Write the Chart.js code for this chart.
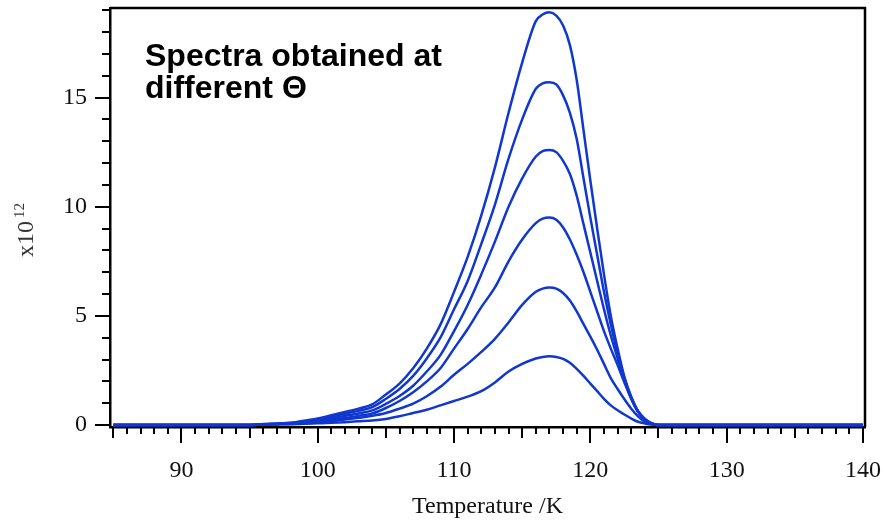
<!DOCTYPE html>
<html>
<head>
<meta charset="utf-8">
<script src="https://cdn.jsdelivr.net/npm/chart.js@4.4.1/dist/chart.umd.min.js"></script>
<style>
  html, body { margin: 0; padding: 0; background: #fff; }
  #wrap { width: 885px; height: 522px; }
</style>
</head>
<body>
<div id="wrap"><canvas id="c" width="885" height="522"></canvas></div>
<script>
// ---- data ----
const temperatures = [85, 90, 95, 96, 97, 98, 99, 100, 101, 102, 103, 104, 105, 106, 107, 108, 109, 110, 111, 112, 113, 114, 115, 116,
  116.5, 117, 117.5, 118, 118.5, 119, 119.5, 120, 120.5, 121, 121.5, 122, 122.5, 123, 123.5, 124, 124.5, 125, 130, 135, 140];

const spectrum1 = [0, 0, 0, 0.05, 0.07, 0.1, 0.2, 0.3, 0.45, 0.6, 0.75, 0.95, 1.4, 1.9, 2.6, 3.5, 4.6, 6.1, 7.7, 9.6, 11.8, 14.3, 16.6, 18.5,
  18.8, 18.9, 18.75, 18.3, 17.4, 15.8, 13.5, 11.2, 9.0, 6.9, 5.0, 3.5, 2.2, 1.3, 0.65, 0.28, 0.08, 0, 0, 0, 0];
const spectrum2 = [0, 0, 0, 0.04, 0.06, 0.09, 0.17, 0.26, 0.38, 0.52, 0.65, 0.82, 1.2, 1.65, 2.25, 3.05, 4.0, 5.3, 6.6, 8.3, 10.1, 12.2, 14.0, 15.4,
  15.65, 15.7, 15.6, 15.1, 14.3, 13.1, 11.3, 9.5, 7.8, 6.1, 4.6, 3.3, 2.15, 1.25, 0.62, 0.27, 0.08, 0, 0, 0, 0];
const spectrum3 = [0, 0, 0, 0.04, 0.05, 0.07, 0.14, 0.21, 0.31, 0.42, 0.53, 0.67, 0.97, 1.33, 1.8, 2.45, 3.2, 4.3, 5.5, 6.9, 8.4, 10.0, 11.3, 12.3,
  12.55, 12.6, 12.5, 12.1, 11.5, 10.5, 9.2, 7.9, 6.6, 5.3, 4.1, 3.05, 2.05, 1.22, 0.6, 0.26, 0.07, 0, 0, 0, 0];
const spectrum4 = [0, 0, 0, 0.03, 0.04, 0.06, 0.11, 0.16, 0.24, 0.32, 0.42, 0.53, 0.78, 1.1, 1.5, 2.0, 2.6, 3.5, 4.4, 5.4, 6.3, 7.5, 8.5, 9.25,
  9.45, 9.5, 9.4, 9.05, 8.5, 7.8, 7.0, 6.1, 5.2, 4.3, 3.5, 2.75, 1.95, 1.2, 0.6, 0.25, 0.07, 0, 0, 0, 0];
const spectrum5 = [0, 0, 0, 0.03, 0.04, 0.05, 0.08, 0.12, 0.18, 0.25, 0.33, 0.42, 0.55, 0.75, 0.98, 1.32, 1.75, 2.3, 2.8, 3.35, 3.95, 4.7, 5.5, 6.1,
  6.25, 6.3, 6.25, 6.05, 5.7, 5.2, 4.62, 4.05, 3.45, 2.8, 2.15, 1.65, 1.18, 0.75, 0.4, 0.15, 0.04, 0, 0, 0, 0];
const spectrum6 = [0, 0, 0, 0.02, 0.03, 0.04, 0.06, 0.08, 0.1, 0.13, 0.17, 0.21, 0.28, 0.4, 0.55, 0.7, 0.9, 1.1, 1.3, 1.55, 1.95, 2.45, 2.8, 3.05,
  3.12, 3.15, 3.12, 3.03, 2.85, 2.57, 2.25, 1.9, 1.55, 1.2, 0.9, 0.68, 0.48, 0.3, 0.15, 0.07, 0.02, 0, 0, 0, 0];

const xTickValues = [90, 100, 110, 120, 130, 140];
const yTickValues = [0, 5, 10, 15];
const xAxisTitle = 'Temperature /K';
const yAxisTitleBase = 'x10';
const yAxisTitleExp = '12';
const noteLines = ['Spectra obtained at', 'different \u0398'];

// ---- chart ----
const lineColor = '#1038d0';
const seriesList = [spectrum1, spectrum2, spectrum3, spectrum4, spectrum5, spectrum6];
const datasets = seriesList.map((s, i) => ({
  label: 'Spectrum ' + (i + 1),
  data: temperatures.map((t, k) => ({ x: t, y: s[k] })),
  borderColor: lineColor,
  borderWidth: 2.5,
  pointRadius: 0,
  fill: false,
  cubicInterpolationMode: 'monotone'
}));

const serif = "'Liberation Serif', 'Times New Roman', serif";

function zeroPad(s) {
  s.paddingTop = 0; s.paddingBottom = 0; s.paddingLeft = 0; s.paddingRight = 0;
}

const decor = {
  id: 'decor',
  afterDraw(chart) {
    const { ctx, chartArea: a, scales: { x, y } } = chart;
    ctx.save();
    ctx.strokeStyle = '#000';
    ctx.lineWidth = 2.5;
    ctx.beginPath();
    ctx.moveTo(a.left, a.top);
    ctx.lineTo(a.right, a.top);
    ctx.lineTo(a.right, a.bottom);
    ctx.stroke();

    ctx.lineWidth = 2;
    for (let v = Math.ceil(x.min); v <= x.max; v++) {
      const px = Math.round(x.getPixelForValue(v));
      const len = v % 10 === 0 ? 16 : (v % 5 === 0 ? 11 : 7);
      ctx.beginPath();
      ctx.moveTo(px, a.bottom);
      ctx.lineTo(px, a.bottom + len);
      ctx.stroke();
    }
    for (let v = Math.ceil(y.min); v <= y.max; v++) {
      const py = Math.round(y.getPixelForValue(v));
      const len = v % 5 === 0 ? 15 : 8;
      ctx.beginPath();
      ctx.moveTo(a.left - len, py);
      ctx.lineTo(a.left, py);
      ctx.stroke();
    }

    // x axis title
    ctx.fillStyle = '#111';
    ctx.font = '24px ' + serif;
    ctx.textAlign = 'center';
    ctx.textBaseline = 'alphabetic';
    ctx.fillText(xAxisTitle, (a.left + a.right) / 2, 513);

    // y axis title (rotated, with superscript)
    ctx.save();
    ctx.translate(33, 257);
    ctx.rotate(-Math.PI / 2);
    ctx.textAlign = 'left';
    ctx.font = '24px ' + serif;
    ctx.fillStyle = '#333';
    ctx.fillText(yAxisTitleBase, 0, 0);
    const w = ctx.measureText(yAxisTitleBase).width;
    ctx.font = '15px ' + serif;
    ctx.fillText(yAxisTitleExp, w + 3, -9);
    ctx.restore();

    // annotation
    ctx.fillStyle = '#000';
    ctx.textAlign = 'left';
    ctx.font = "bold 32px 'Liberation Sans', Arial, sans-serif";
    ctx.fillText(noteLines[0], 145, 66);
    ctx.fillText(noteLines[1], 145, 98);
    ctx.restore();
  }
};

new Chart(document.getElementById('c'), {
  type: 'line',
  data: { datasets },
  options: {
    responsive: false,
    animation: false,
    devicePixelRatio: 1,
    layout: { padding: { top: 8, right: 20, left: 0, bottom: 0 } },
    plugins: { legend: { display: false }, tooltip: { enabled: false } },
    scales: {
      x: {
        type: 'linear',
        min: 84.76,
        max: 140.15,
        afterBuildTicks: s => { s.ticks = xTickValues.map(v => ({ value: v })); },
        afterFit: s => { s.height = 95; zeroPad(s); },
        ticks: { color: '#111', font: { family: serif, size: 24 }, padding: 29, maxRotation: 0, autoSkip: false },
        grid: { display: false, drawTicks: false },
        border: { display: true, color: '#000', width: 2.5 }
      },
      y: {
        type: 'linear',
        min: -0.09,
        max: 19.1,
        afterBuildTicks: s => { s.ticks = yTickValues.map(v => ({ value: v })); },
        afterFit: s => { s.width = 110; zeroPad(s); },
        ticks: { color: '#111', font: { family: serif, size: 24 }, padding: 23 },
        grid: { display: false, drawTicks: false },
        border: { display: true, color: '#000', width: 2.5 }
      }
    }
  },
  plugins: [decor]
});
</script>
</body>
</html>
